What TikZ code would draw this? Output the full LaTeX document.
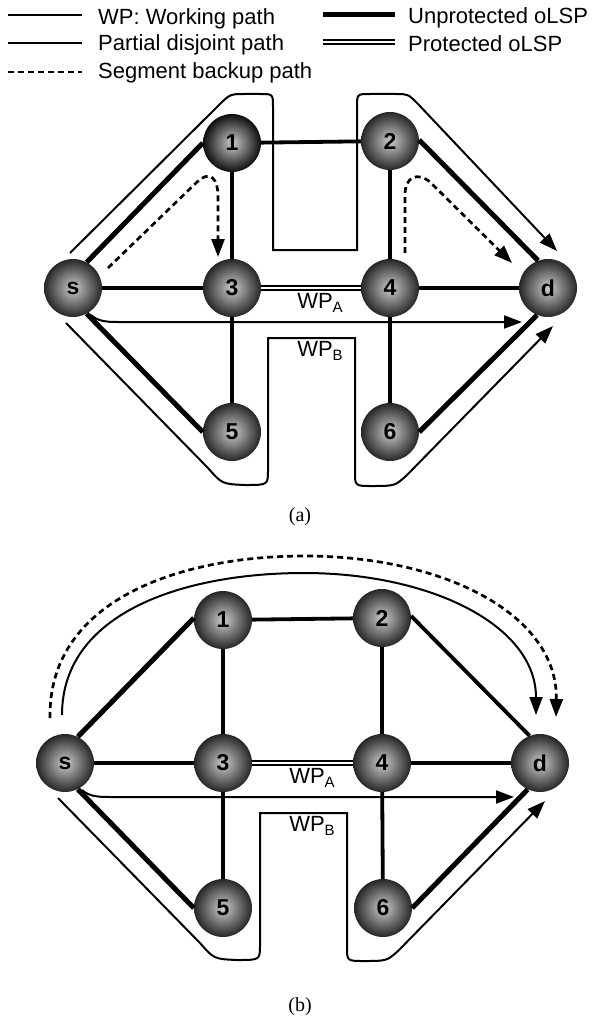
\documentclass[tikz,border=0pt]{standalone}
\usepackage{fontspec}
\setmainfont{Liberation Sans}
\newfontfamily\capfont{Liberation Serif}
\usetikzlibrary{arrows.meta}
\begin{document}
\begin{tikzpicture}[x=1pt,y=-1pt,
  nd/.style={circle, minimum size=58pt, inner sep=0pt, shading=radial,
    inner color=gray!40, outer color=black!85,
    font=\fontsize{23}{23}\selectfont\bfseries, text=black},
  lnk/.style={line width=3.8pt},
  uprot/.style={line width=5pt},
  prot/.style={double=white, line width=1.8pt, double distance=2.2pt},
  wp/.style={line width=2pt},
  bk/.style={line width=2.7pt, dash pattern=on 6pt off 4pt},
  tip/.style={-{Triangle[length=18pt,width=13pt]}},
  lbl/.style={font=\fontsize{22}{22}\selectfont, anchor=west, inner sep=0pt},
  wplbl/.style={font=\fontsize{22}{22}\selectfont, inner sep=0pt},
  captxt/.style={font=\capfont\fontsize{20}{20}\selectfont, inner sep=0pt}
]
\useasboundingbox (0,0) rectangle (597,1022);

% ---------------- legend ----------------
\coordinate (l1a) at (8,15);  \coordinate (l1b) at (82,15);
\coordinate (l2a) at (8,43);  \coordinate (l2b) at (82,43);
\coordinate (l3a) at (8,72);  \coordinate (l3b) at (82,72);
\coordinate (r1a) at (323,15); \coordinate (r1b) at (395,15);
\coordinate (r2a) at (323,42); \coordinate (r2b) at (395,42);
\draw[wp] (l1a) -- (l1b);
\draw[wp] (l2a) -- (l2b);
\draw[bk] (l3a) -- (l3b);
\draw[uprot] (r1a) -- (r1b);
\draw[prot] (r2a) -- (r2b);
\node[lbl] (t1) at (98,19) {WP: Working path};
\node[lbl] (t2) at (98,45) {Partial disjoint path};
\node[lbl] (t3) at (98,73) {Segment backup path};
\node[lbl] (t4) at (408,18) {Unprotected oLSP};
\node[lbl] (t5) at (408,44) {Protected oLSP};

% ---------------- panel (a) ----------------
\node[nd] (as) at (73,288) {s};
\node[nd, outer color=black!95] (a1) at (232,143) {1};
\node[nd] (a2) at (390,141) {2};
\node[nd] (a3) at (232,288) {3};
\node[nd] (a4) at (390,288) {4};
\node[nd] (ad) at (548,288) {d};
\node[nd] (a5) at (232,432) {5};
\node[nd] (a6) at (390,432) {6};

\draw[uprot] (as.62) -- (a1.180);
\draw[lnk] (a1) -- (a2);
\draw[lnk] (a1) -- (a3);
\draw[lnk] (a2) -- (a4);
\draw[uprot] (a2.2) -- (ad.110);
\draw[lnk] (as) -- (a3);
\draw[prot] (a3) -- (a4);
\draw[lnk] (a4) -- (ad);
\draw[lnk] (a3) -- (a5);
\draw[uprot] (as.-62) -- (a5.180);
\draw[lnk] (a4) -- (a6);
\draw[uprot] (a6.0) -- (ad.-112);

% working path over the top
\coordinate (aw1s) at (70,253);
\coordinate (aw1e) at (557,251);
\draw[wp, tip] (aw1s) -- (218,106) .. controls (230,94) .. (245,94) -- (260,94)
  .. controls (273,94) .. (273,107) -- (273,250) -- (357,250) -- (357,107)
  .. controls (357,94) .. (370,94) -- (396,94) .. controls (408,94) .. (418,104) -- (aw1e);
% WP_A
\coordinate (awas) at (91,315);
\coordinate (awae) at (522,322);
\draw[wp, tip] (awas) .. controls (98,321) and (105,322) .. (118,322) -- (awae);
% WP_B loop
\coordinate (awbs) at (66,323);
\coordinate (awbe) at (553,326);
\draw[wp, tip] (awbs) -- (208,468) .. controls (222,484) .. (245,485)
  .. controls (268,485) .. (268,470) -- (268,338) -- (355,338) -- (355,472)
  .. controls (355,486) .. (372,486) .. controls (395,486) .. (407,475) -- (awbe);
% segment backups
\coordinate (ab1s) at (108,268);
\coordinate (ab1e) at (218,257);
\draw[bk, tip] (ab1s) -- (197,182) .. controls (211,169) and (218,180) .. (218,196) -- (ab1e);
\coordinate (ab2s) at (405,253);
\coordinate (ab2e) at (512,263);
\draw[bk, tip] (ab2s) -- (405,195) .. controls (405,176) and (418,172) .. (430,182) -- (ab2e);

\node[wplbl] (awa) at (320,303) {WP\raisebox{-4pt}{\fontsize{15}{15}\selectfont A}};
\node[wplbl] (awb) at (320,351) {WP\raisebox{-4pt}{\fontsize{15}{15}\selectfont B}};
\node[captxt] (capa) at (300,517) {(a)};

% ---------------- panel (b) ----------------
\node[nd] (bs) at (65,763) {s};
\node[nd] (b1) at (223,620) {1};
\node[nd] (b2) at (382,618) {2};
\node[nd] (b3) at (223,763) {3};
\node[nd] (b4) at (382,763) {4};
\node[nd] (bd) at (540,763) {d};
\node[nd] (b5) at (223,908) {5};
\node[nd] (b6) at (383,908) {6};

\draw[uprot] (bs.64) -- (b1.176);
\draw[lnk] (b1) -- (b2);
\draw[lnk] (b1) -- (b3);
\draw[lnk] (b2) -- (b4);
\draw[lnk] (b2.4) -- (bd.111);
\draw[lnk] (bs) -- (b3);
\draw[prot] (b3) -- (b4);
\draw[lnk] (b4) -- (bd);
\draw[lnk] (b3) -- (b5);
\draw[uprot] (bs.-64) -- (b5.180);
\draw[lnk] (b4) -- (b6);
\draw[uprot] (b6.0) -- (bd.-115);

% top arcs
\coordinate (bt1s) at (62,715);
\coordinate (bt1e) at (536,715);
\draw[wp, tip] (bt1s) .. controls (62,612) and (185,573) .. (304,573)
  .. controls (430,573) and (536,625) .. (bt1e);
\coordinate (bt2s) at (50,718);
\coordinate (bt2e) at (556,717);
\draw[bk, tip] (bt2s) .. controls (48,600) and (180,556) .. (304,556)
  .. controls (445,556) and (558,615) .. (bt2e);
% WP_A
\coordinate (bwas) at (82,790);
\coordinate (bwae) at (514,797);
\draw[wp, tip] (bwas) .. controls (89,796) and (96,797) .. (110,797) -- (bwae);
% WP_B loop
\coordinate (bwbs) at (58,798);
\coordinate (bwbe) at (545,801);
\draw[wp, tip] (bwbs) -- (200,943) .. controls (214,959) .. (237,960)
  .. controls (260,960) .. (260,945) -- (260,813) -- (347,813) -- (347,947)
  .. controls (347,961) .. (364,961) .. controls (387,961) .. (399,950) -- (bwbe);

\node[wplbl] (bwa) at (312,778) {WP\raisebox{-4pt}{\fontsize{15}{15}\selectfont A}};
\node[wplbl] (bwb) at (312,826) {WP\raisebox{-4pt}{\fontsize{15}{15}\selectfont B}};
\node[captxt] (capb) at (300,1007) {(b)};
\end{tikzpicture}
\end{document}
